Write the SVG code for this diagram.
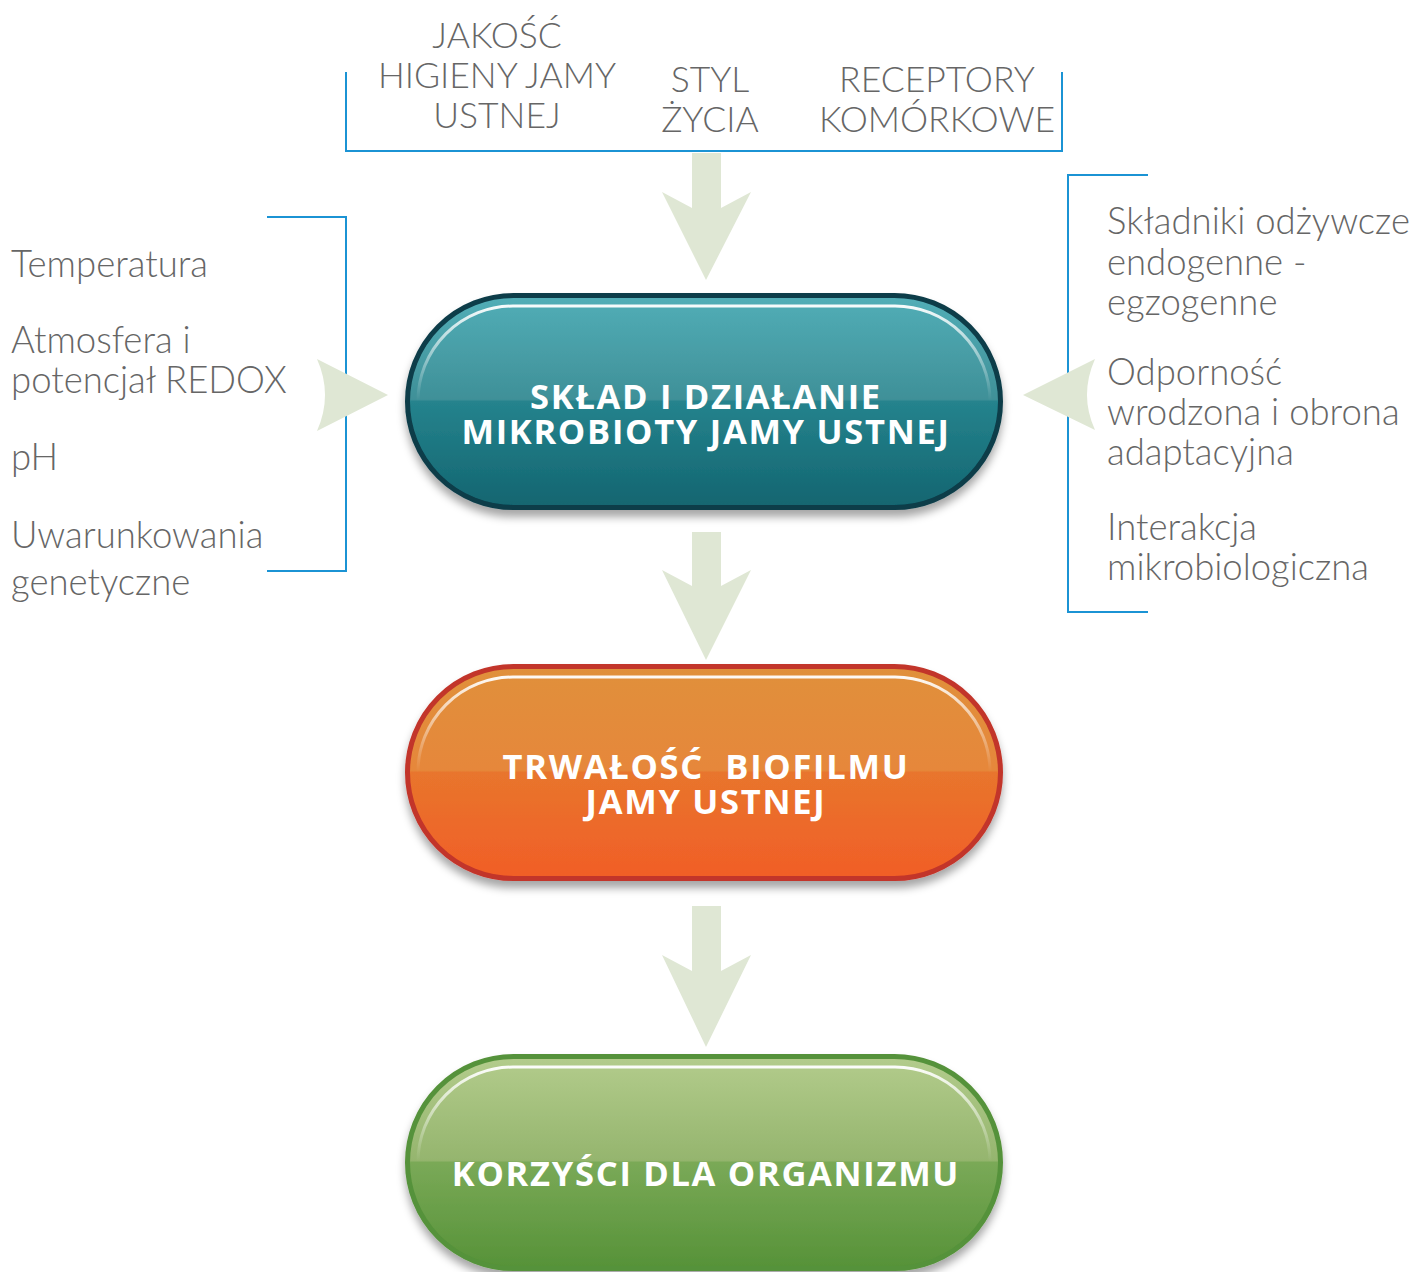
<svg xmlns="http://www.w3.org/2000/svg" width="1414" height="1272" viewBox="0 0 1414 1272">
<defs>
<style>
.lbl{font-family:Lato,"Open Sans","DejaVu Sans",sans-serif;font-weight:300;font-size:36.5px;fill:#666666}
.top{font-family:Lato,"Open Sans","DejaVu Sans",sans-serif;font-weight:300;font-size:35.5px;fill:#666666;text-anchor:middle}
.nt{font-family:"Open Sans",Lato,"DejaVu Sans",sans-serif;font-weight:700;font-size:34.5px;letter-spacing:1.7px;fill:#ffffff;text-anchor:middle}
.br{fill:none;stroke:#1b93d4;stroke-width:2}
.arr{fill:#dfe7d4}
.hl{fill:none;stroke:url(#hlg);stroke-width:3}
</style>
<linearGradient id="gTeal" x1="0" y1="0" x2="0" y2="1">
<stop offset="0" stop-color="#52aeb7"/><stop offset="0.49" stop-color="#3f9098"/><stop offset="0.5" stop-color="#25838d"/><stop offset="1" stop-color="#136570"/>
</linearGradient>
<linearGradient id="gOr" x1="0" y1="0" x2="0" y2="1">
<stop offset="0" stop-color="#e0903a"/><stop offset="0.49" stop-color="#e6873a"/><stop offset="0.5" stop-color="#e8752d"/><stop offset="1" stop-color="#f15e27"/>
</linearGradient>
<linearGradient id="gGr" x1="0" y1="0" x2="0" y2="1">
<stop offset="0" stop-color="#b3cc8c"/><stop offset="0.49" stop-color="#95b56e"/><stop offset="0.5" stop-color="#7aa957"/><stop offset="1" stop-color="#569238"/>
</linearGradient>
<linearGradient id="hlg" x1="0" y1="0" x2="0" y2="1">
<stop offset="0" stop-color="#ffffff" stop-opacity="0.95"/><stop offset="1" stop-color="#ffffff" stop-opacity="0"/>
</linearGradient>
<filter id="sh" x="-10%" y="-10%" width="120%" height="130%">
<feDropShadow dx="0" dy="7" stdDeviation="4" flood-color="#000000" flood-opacity="0.35"/>
</filter>
</defs>

<g id="connectors">
<polyline class="br" points="346,72 346,151 1062,151 1062,72"/>
<polyline class="br" points="267,217 346,217 346,571 267,571"/>
<polyline class="br" points="1148,175 1068,175 1068,612 1148,612"/>
<polygon class="arr" points="692,153 721,153 721,208 751,192 706,280 662,192 692,208"/>
<polygon class="arr" points="692,532 721,532 721,586 751,570 706,660 662,570 692,586"/>
<polygon class="arr" points="692,906 721,906 721,971 751,955 706,1047 662,955 692,971"/>
<path class="arr" d="M317,359 L388,395 L317,431 Q333,395 317,359 Z"/>
<path class="arr" d="M1095,359 L1023,395 L1095,430 Q1079,395 1095,359 Z"/>
</g>

<g id="top-labels">
<text class="top" x="497" y="48">JAKOŚĆ</text>
<text class="top" x="497" y="88">HIGIENY JAMY</text>
<text class="top" x="497" y="128">USTNEJ</text>
<text class="top" x="710" y="92">STYL</text>
<text class="top" x="710" y="132">ŻYCIA</text>
<text class="top" x="937" y="92">RECEPTORY</text>
<text class="top" x="937" y="132">KOMÓRKOWE</text>
</g>

<g id="left-labels">
<text class="lbl" x="11" y="277">Temperatura</text>
<text class="lbl" x="11" y="353">Atmosfera i</text>
<text class="lbl" x="11" y="393">potencjał REDOX</text>
<text class="lbl" x="11" y="470">pH</text>
<text class="lbl" x="11" y="548">Uwarunkowania</text>
<text class="lbl" x="11" y="595">genetyczne</text>
</g>

<g id="right-labels">
<text class="lbl" x="1107" y="234">Składniki odżywcze</text>
<text class="lbl" x="1107" y="275">endogenne -</text>
<text class="lbl" x="1107" y="315">egzogenne</text>
<text class="lbl" x="1107" y="385">Odporność</text>
<text class="lbl" x="1107" y="425">wrodzona i obrona</text>
<text class="lbl" x="1107" y="465">adaptacyjna</text>
<text class="lbl" x="1107" y="540">Interakcja</text>
<text class="lbl" x="1107" y="580">mikrobiologiczna</text>
</g>

<g id="node-sklad">
<rect x="407.5" y="295.5" width="593" height="212" rx="106" fill="url(#gTeal)" stroke="#0c3c48" stroke-width="5" filter="url(#sh)"/>
<path class="hl" d="M418,401 A95,95 0 0 1 513,306 L895,306 A95,95 0 0 1 990,401"/>
<text class="nt" x="706" y="409">SKŁAD I DZIAŁANIE</text>
<text class="nt" x="706" y="444">MIKROBIOTY JAMY USTNEJ</text>
</g>

<g id="node-trwalosc">
<rect x="407.5" y="666.5" width="593" height="212" rx="106" fill="url(#gOr)" stroke="#c2342a" stroke-width="5" filter="url(#sh)"/>
<path class="hl" d="M418,772 A95,95 0 0 1 513,677 L895,677 A95,95 0 0 1 990,772"/>
<text class="nt" x="706" y="779" xml:space="preserve">TRWAŁOŚĆ  BIOFILMU</text>
<text class="nt" x="706" y="814">JAMY USTNEJ</text>
</g>

<g id="node-korzysci">
<rect x="407.5" y="1056.5" width="593" height="212" rx="106" fill="url(#gGr)" stroke="#55923a" stroke-width="5" filter="url(#sh)"/>
<path class="hl" d="M418,1162 A95,95 0 0 1 513,1067 L895,1067 A95,95 0 0 1 990,1162"/>
<text class="nt" x="706" y="1186">KORZYŚCI DLA ORGANIZMU</text>
</g>
</svg>
